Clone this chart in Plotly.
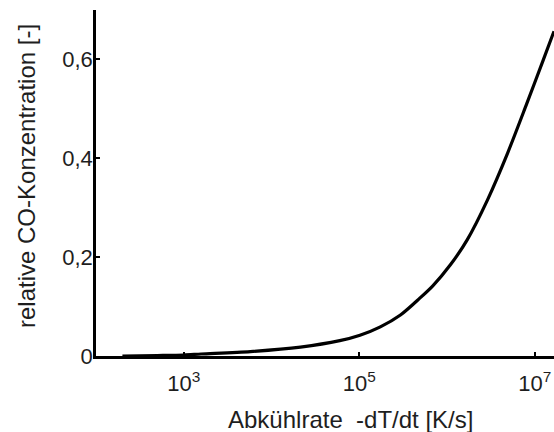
import plotly.graph_objects as go

# cooling rate -dT/dt [K/s]
rate = [200, 500, 1000, 1580, 5750, 2.14e4, 6.0e4, 1.02e5, 1.74e5, 2.95e5,
        4.9e5, 6.9e5, 1.1e6, 1.7e6, 2.9e6, 4.9e6, 8.1e6, 1.26e7, 1.66e7]
# relative CO concentration [-]
co_rel = [0.0, 0.001, 0.002, 0.004, 0.009, 0.018, 0.031, 0.042, 0.059, 0.083,
          0.117, 0.142, 0.185, 0.235, 0.316, 0.41, 0.51, 0.60, 0.657]

x_tickvals = [1e3, 1e5, 1e7]
x_ticktext = ["10<sup>3</sup>", "10<sup>5</sup>", "10<sup>7</sup>"]
y_tickvals = [0, 0.2, 0.4, 0.6]
y_ticktext = ["0", "0,2", "0,4", "0,6"]

fig = go.Figure()
fig.add_trace(go.Scatter(x=rate, y=co_rel, mode="lines",
                         line=dict(color="black", width=3.2, shape="spline", smoothing=0.8),
                         showlegend=False))

FAM = "Liberation Sans, Arial, sans-serif"
TXT = "#1e1e1e"
fig.update_layout(
    width=554, height=432,
    margin=dict(l=96, r=0, t=10, b=76),
    paper_bgcolor="white", plot_bgcolor="white",
    font=dict(family=FAM, size=22, color=TXT),
)
fig.update_xaxes(type="log", range=[2.0, 7.22], automargin=False,
                 tickvals=x_tickvals, ticktext=x_ticktext,
                 tickfont=dict(family=FAM, size=22, color=TXT),
                 ticklabelstandoff=6,
                 showline=True, linecolor="black", linewidth=2.5,
                 ticks="inside", ticklen=4, tickwidth=1.5, tickcolor="black",
                 showgrid=False, zeroline=False)
fig.update_yaxes(range=[0, 0.7], automargin=False,
                 tickvals=y_tickvals, ticktext=y_ticktext,
                 tickfont=dict(family=FAM, size=22, color=TXT),
                 ticklabelstandoff=-4,
                 showline=True, linecolor="black", linewidth=2.5,
                 ticks="inside", ticklen=4, tickwidth=1.5, tickcolor="black",
                 showgrid=False, zeroline=False)

fig.add_annotation(text="Abkühlrate &nbsp;-dT/dt [K/s]", xref="paper", yref="paper",
                   x=(350 - 96) / 458, y=-(419 - 356) / 346, xanchor="center", yanchor="middle",
                   showarrow=False, font=dict(family=FAM, size=24, color=TXT))
fig.add_annotation(text="relative CO-Konzentration [-]", xref="paper", yref="paper",
                   x=-(96 - 26) / 458, y=(356 - 176) / 346, xanchor="center", yanchor="middle",
                   textangle=-90, showarrow=False,
                   font=dict(family=FAM, size=24, color=TXT))

fig.write_html("out.html", config={"displayModeBar": False},
               post_script="document.body.style.margin='0px';document.body.style.overflow='hidden';")
